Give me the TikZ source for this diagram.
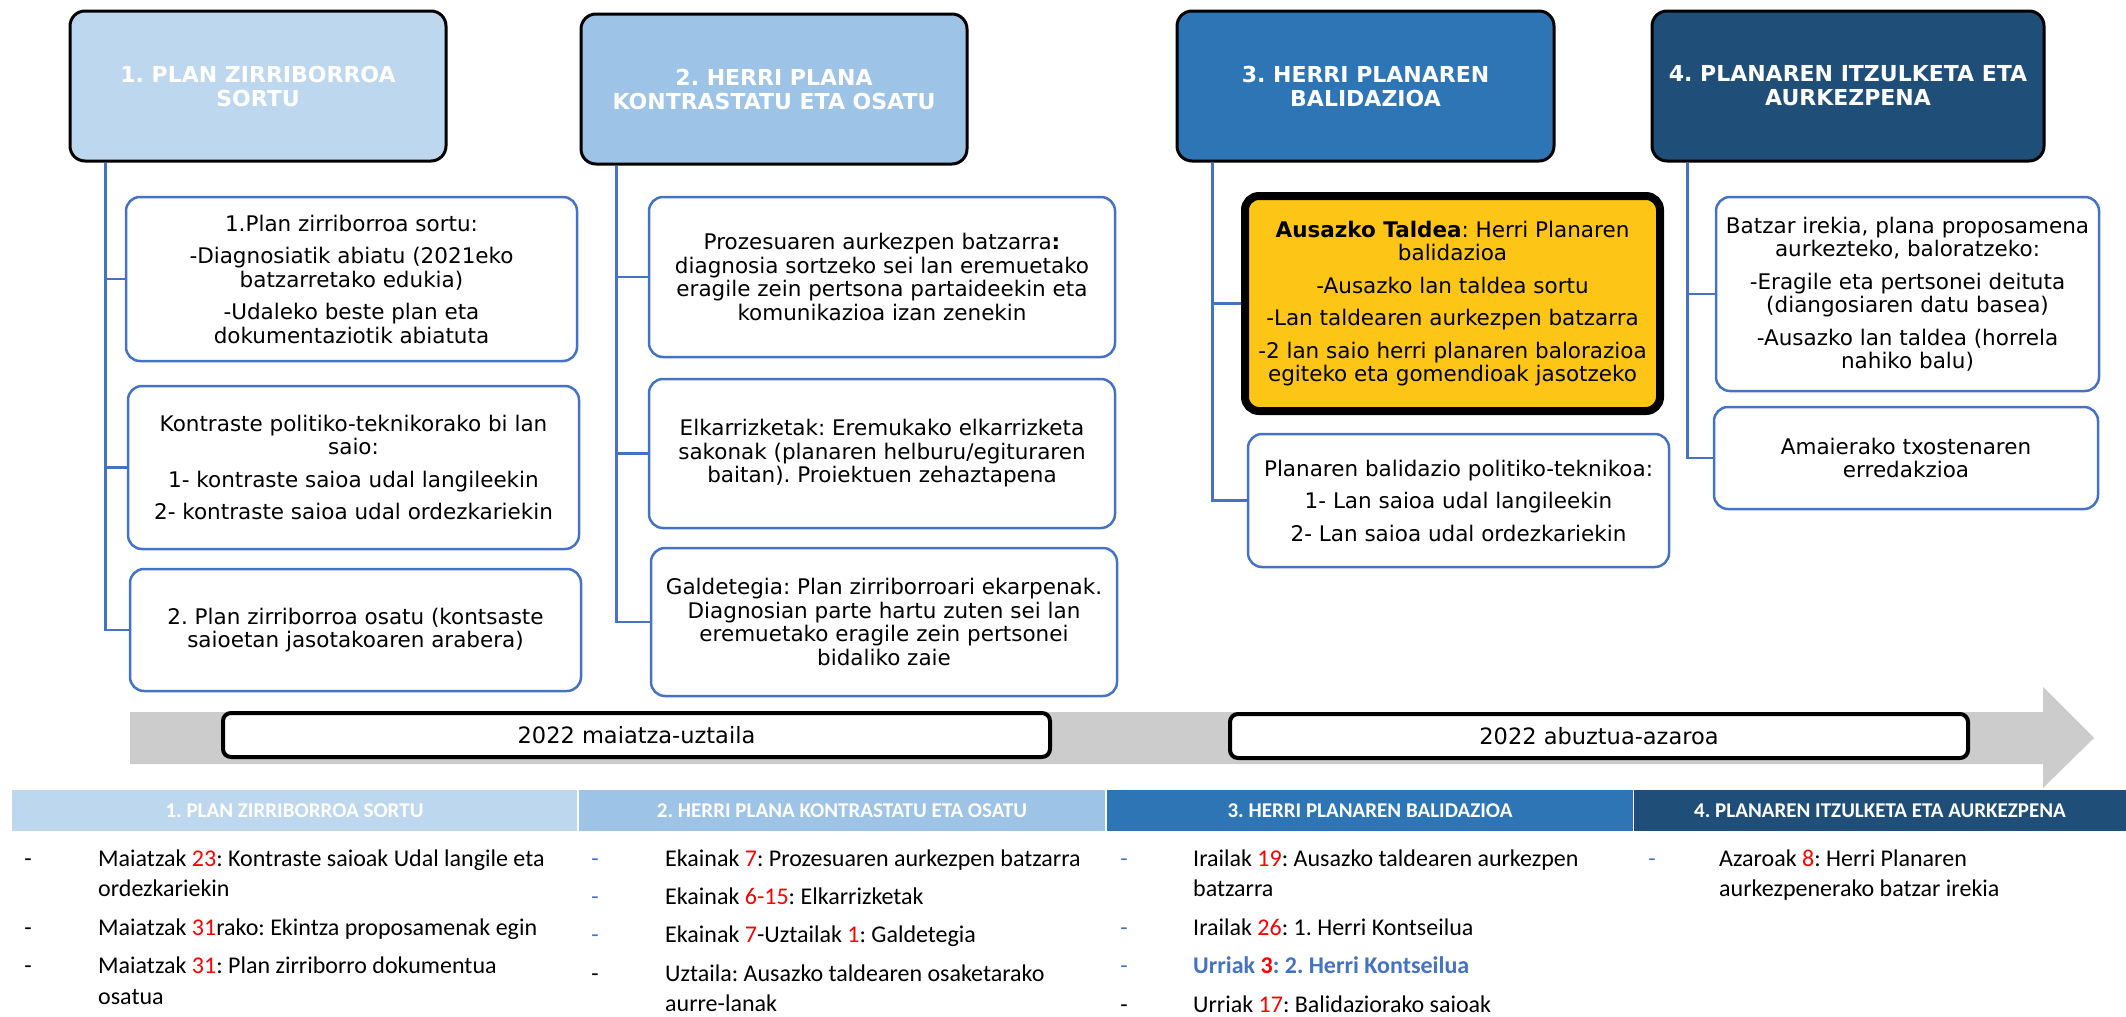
\documentclass[tikz,border=0pt]{standalone}
\usepackage{fontspec}
\setmainfont{DejaVu Sans}
\newfontfamily\calfont{Carlito}
\usetikzlibrary{
  calc, % For coordinate calculations
  positioning % For relative placement
}
\frenchspacing

\definecolor{fase1}{HTML}{BDD7EE}
\definecolor{fase2}{HTML}{9DC3E6}
\definecolor{fase3}{HTML}{2E75B6}
\definecolor{fase4}{HTML}{1F4E79}
\definecolor{lerro}{HTML}{4472C4}
\definecolor{horia}{HTML}{FDC516}
\definecolor{grisa}{HTML}{CCCCCC}

\newcommand{\gorri}[1]{\textcolor{red}{#1}}

\begin{document}
\begin{tikzpicture}[
      x=1pt, y=-1pt, % pixel coordinates, y downwards
      fase/.style={draw=black, line width=3pt, rounded corners=15pt, text=white,
        font=\bfseries\fontsize{22}{24}\selectfont, align=center,
        minimum height=150pt, inner sep=0pt}, % phase header
      azpi/.style={draw=lerro, fill=white, line width=2.5pt, rounded corners=14pt,
        font=\fontsize{21.5}{23.5}\selectfont, align=center, inner sep=0pt}, % sub box
      lotura/.style={draw=lerro, line width=2.5pt}, % tree connector
      epea/.style={draw=black, fill=white, line width=4pt, rounded corners=8pt,
        font=\fontsize{22.5}{26}\selectfont, minimum height=44pt, inner sep=0pt}, % period label
      taula/.style={text=white, font=\calfont\bfseries\fontsize{21}{24}\selectfont,
        minimum height=41pt, inner sep=0pt}, % table header cell
      zerr/.style={anchor=base west, inner sep=0pt, font=\calfont\fontsize{24}{30}\selectfont},
      marra/.style={anchor=base, inner sep=0pt, font=\calfont\fontsize{24}{30}\selectfont},
    ]

    \useasboundingbox (0,0) rectangle (2126,1017);

    \def\tick{37pt}

    % Phase headers
    \node[fase, fill=fase1, minimum width=376pt] (h1) at (258,86) {1. PLAN ZIRRIBORROA\\SORTU};
    \node[fase, fill=fase2, minimum width=386pt] (h2) at (774,89) {2. HERRI PLANA\\KONTRASTATU ETA OSATU};
    \node[fase, fill=fase3, minimum width=377pt] (h3) at (1365.5,86) {3. HERRI PLANAREN\\BALIDAZIOA};
    \node[fase, fill=fase4, minimum width=392pt] (h4) at (1848,86) {4. PLANAREN ITZULKETA ETA\\AURKEZPENA};

    % Phase 1
    \node[azpi, minimum width=451pt, minimum height=164pt] (s1a) at (351.5,279)
      {1.Plan zirriborroa sortu:\\[9pt]-Diagnosiatik abiatu (2021eko\\batzarretako edukia)\\[9pt]-Udaleko beste plan eta\\dokumentaziotik abiatuta};
    \node[azpi, minimum width=451pt, minimum height=163pt] (s1b) at (353.5,467.5)
      {Kontraste politiko-teknikorako bi lan\\saio:\\[9pt]1- kontraste saioa udal langileekin\\[9pt]2- kontraste saioa udal ordezkariekin};
    \node[azpi, minimum width=451pt, minimum height=122pt] (s1c) at (355.5,630)
      {2. Plan zirriborroa osatu (kontsaste\\saioetan jasotakoaren arabera)};

    % Phase 2
    \node[azpi, minimum width=466pt, minimum height=160pt] (s2a) at (882,277)
      {Prozesuaren aurkezpen batzarra\textbf{:}\\diagnosia sortzeko sei lan eremuetako\\eragile zein pertsona partaideekin eta\\komunikazioa izan zenekin};
    \node[azpi, minimum width=466pt, minimum height=149pt] (s2b) at (882,453.5)
      {Elkarrizketak: Eremukako elkarrizketa\\sakonak (planaren helburu/egituraren\\baitan). Proiektuen zehaztapena};
    \node[azpi, minimum width=466pt, minimum height=148pt] (s2c) at (884,622)
      {Galdetegia: Plan zirriborroari ekarpenak.\\Diagnosian parte hartu zuten sei lan\\eremuetako eragile zein pertsonei\\bidaliko zaie};

    % Phase 3
    \node[azpi, draw=black, fill=horia, line width=8pt, minimum width=415pt, minimum height=215pt] (s3a) at (1452.5,303.5)
      {\textbf{Ausazko Taldea}: Herri Planaren\\balidazioa\\[9pt]-Ausazko lan taldea sortu\\[9pt]-Lan taldearen aurkezpen batzarra\\[9pt]-2 lan saio herri planaren balorazioa\\egiteko eta gomendioak jasotzeko};
    \node[azpi, minimum width=421pt, minimum height=133pt] (s3b) at (1458.5,500.5)
      {Planaren balidazio politiko-teknikoa:\\[9pt]1- Lan saioa udal langileekin\\[9pt]2- Lan saioa udal ordezkariekin};

    % Phase 4
    \node[azpi, minimum width=383pt, minimum height=194pt] (s4a) at (1907.5,294)
      {Batzar irekia, plana proposamena\\aurkezteko, baloratzeko:\\[9pt]-Eragile eta pertsonei deituta\\(diangosiaren datu basea)\\[9pt]-Ausazko lan taldea (horrela\\nahiko balu)};
    \node[azpi, minimum width=384pt, minimum height=102pt] (s4b) at (1906,458)
      {Amaierako txostenaren\\erredakzioa};

    % Connectors
    \foreach \h/\s in {h1/s1a, h1/s1b, h1/s1c, h2/s2a, h2/s2b, h2/s2c, h3/s3a, h3/s3b, h4/s4a, h4/s4b}
      \draw[lotura] ([xshift=\tick]\h.south west) |- (\s.west);

    % Timeline arrow
    \fill[grisa] (130,712) -- (2043,712) -- (2043,687) -- (2094,738)
      -- (2043,788) -- (2043,764) -- (130,764) -- cycle;
    \node[epea, minimum width=827pt] (e1) at (636.5,735) {2022 maiatza-uztaila};
    \node[epea, minimum width=738pt] (e2) at (1599,736) {2022 abuztua-azaroa};

    % Table header
    \node[taula, fill=fase1, minimum width=565pt] (t1) at (294.5,810.5) {1. PLAN ZIRRIBORROA SORTU};
    \node[taula, fill=fase2, minimum width=526pt] (t2) at (842,810.5) {2. HERRI PLANA KONTRASTATU ETA OSATU};
    \node[taula, fill=fase3, minimum width=526pt] (t3) at (1370,810.5) {3. HERRI PLANAREN BALIDAZIOA};
    \node[taula, fill=fase4, minimum width=492pt] (t4) at (1880,810.5) {4. PLANAREN ITZULKETA ETA AURKEZPENA};

    % Column 1
    \node[marra] (m1a) at (28,866) {-};
    \node[zerr] (z1a) at (98,866) {Maiatzak \gorri{23}: Kontraste saioak Udal langile eta};
    \node[zerr] (z1a2) at (98,896) {ordezkariekin};
    \node[marra] (m1b) at (28,935) {-};
    \node[zerr] (z1b) at (98,935) {Maiatzak \gorri{31}rako: Ekintza proposamenak egin};
    \node[marra] (m1c) at (28,973) {-};
    \node[zerr] (z1c) at (98,973) {Maiatzak \gorri{31}: Plan zirriborro dokumentua};
    \node[zerr] (z1c2) at (98,1004) {osatua};

    % Column 2
    \node[marra, text=lerro] (m2a) at (595,866) {-};
    \node[zerr] (z2a) at (665,866) {Ekainak \gorri{7}: Prozesuaren aurkezpen batzarra};
    \node[marra, text=lerro] (m2b) at (595,904) {-};
    \node[zerr] (z2b) at (665,904) {Ekainak \gorri{6-15}: Elkarrizketak};
    \node[marra, text=lerro] (m2c) at (595,942) {-};
    \node[zerr] (z2c) at (665,942) {Ekainak \gorri{7}-Uztailak \gorri{1}: Galdetegia};
    \node[marra] (m2d) at (595,981) {-};
    \node[zerr] (z2d) at (665,981) {Uztaila: Ausazko taldearen osaketarako};
    \node[zerr] (z2d2) at (665,1011) {aurre-lanak};

    % Column 3
    \node[marra, text=lerro] (m3a) at (1124,866) {-};
    \node[zerr] (z3a) at (1193,866) {Irailak \gorri{19}: Ausazko taldearen aurkezpen};
    \node[zerr] (z3a2) at (1193,896) {batzarra};
    \node[marra, text=lerro] (m3b) at (1124,935) {-};
    \node[zerr] (z3b) at (1193,935) {Irailak \gorri{26}: 1. Herri Kontseilua};
    \node[marra, text=lerro] (m3c) at (1124,973) {-};
    \node[zerr, text=lerro] (z3c) at (1193,973) {\bfseries Urriak \gorri{3}: 2. Herri Kontseilua};
    \node[marra] (m3d) at (1124,1012) {-};
    \node[zerr] (z3d) at (1193,1012) {Urriak \gorri{17}: Balidaziorako saioak};

    % Column 4
    \node[marra, text=lerro] (m4a) at (1652,866) {-};
    \node[zerr] (z4a) at (1719,866) {Azaroak \gorri{8}: Herri Planaren};
    \node[zerr] (z4a2) at (1719,896) {aurkezpenerako batzar irekia};

  \end{tikzpicture}
\end{document}
